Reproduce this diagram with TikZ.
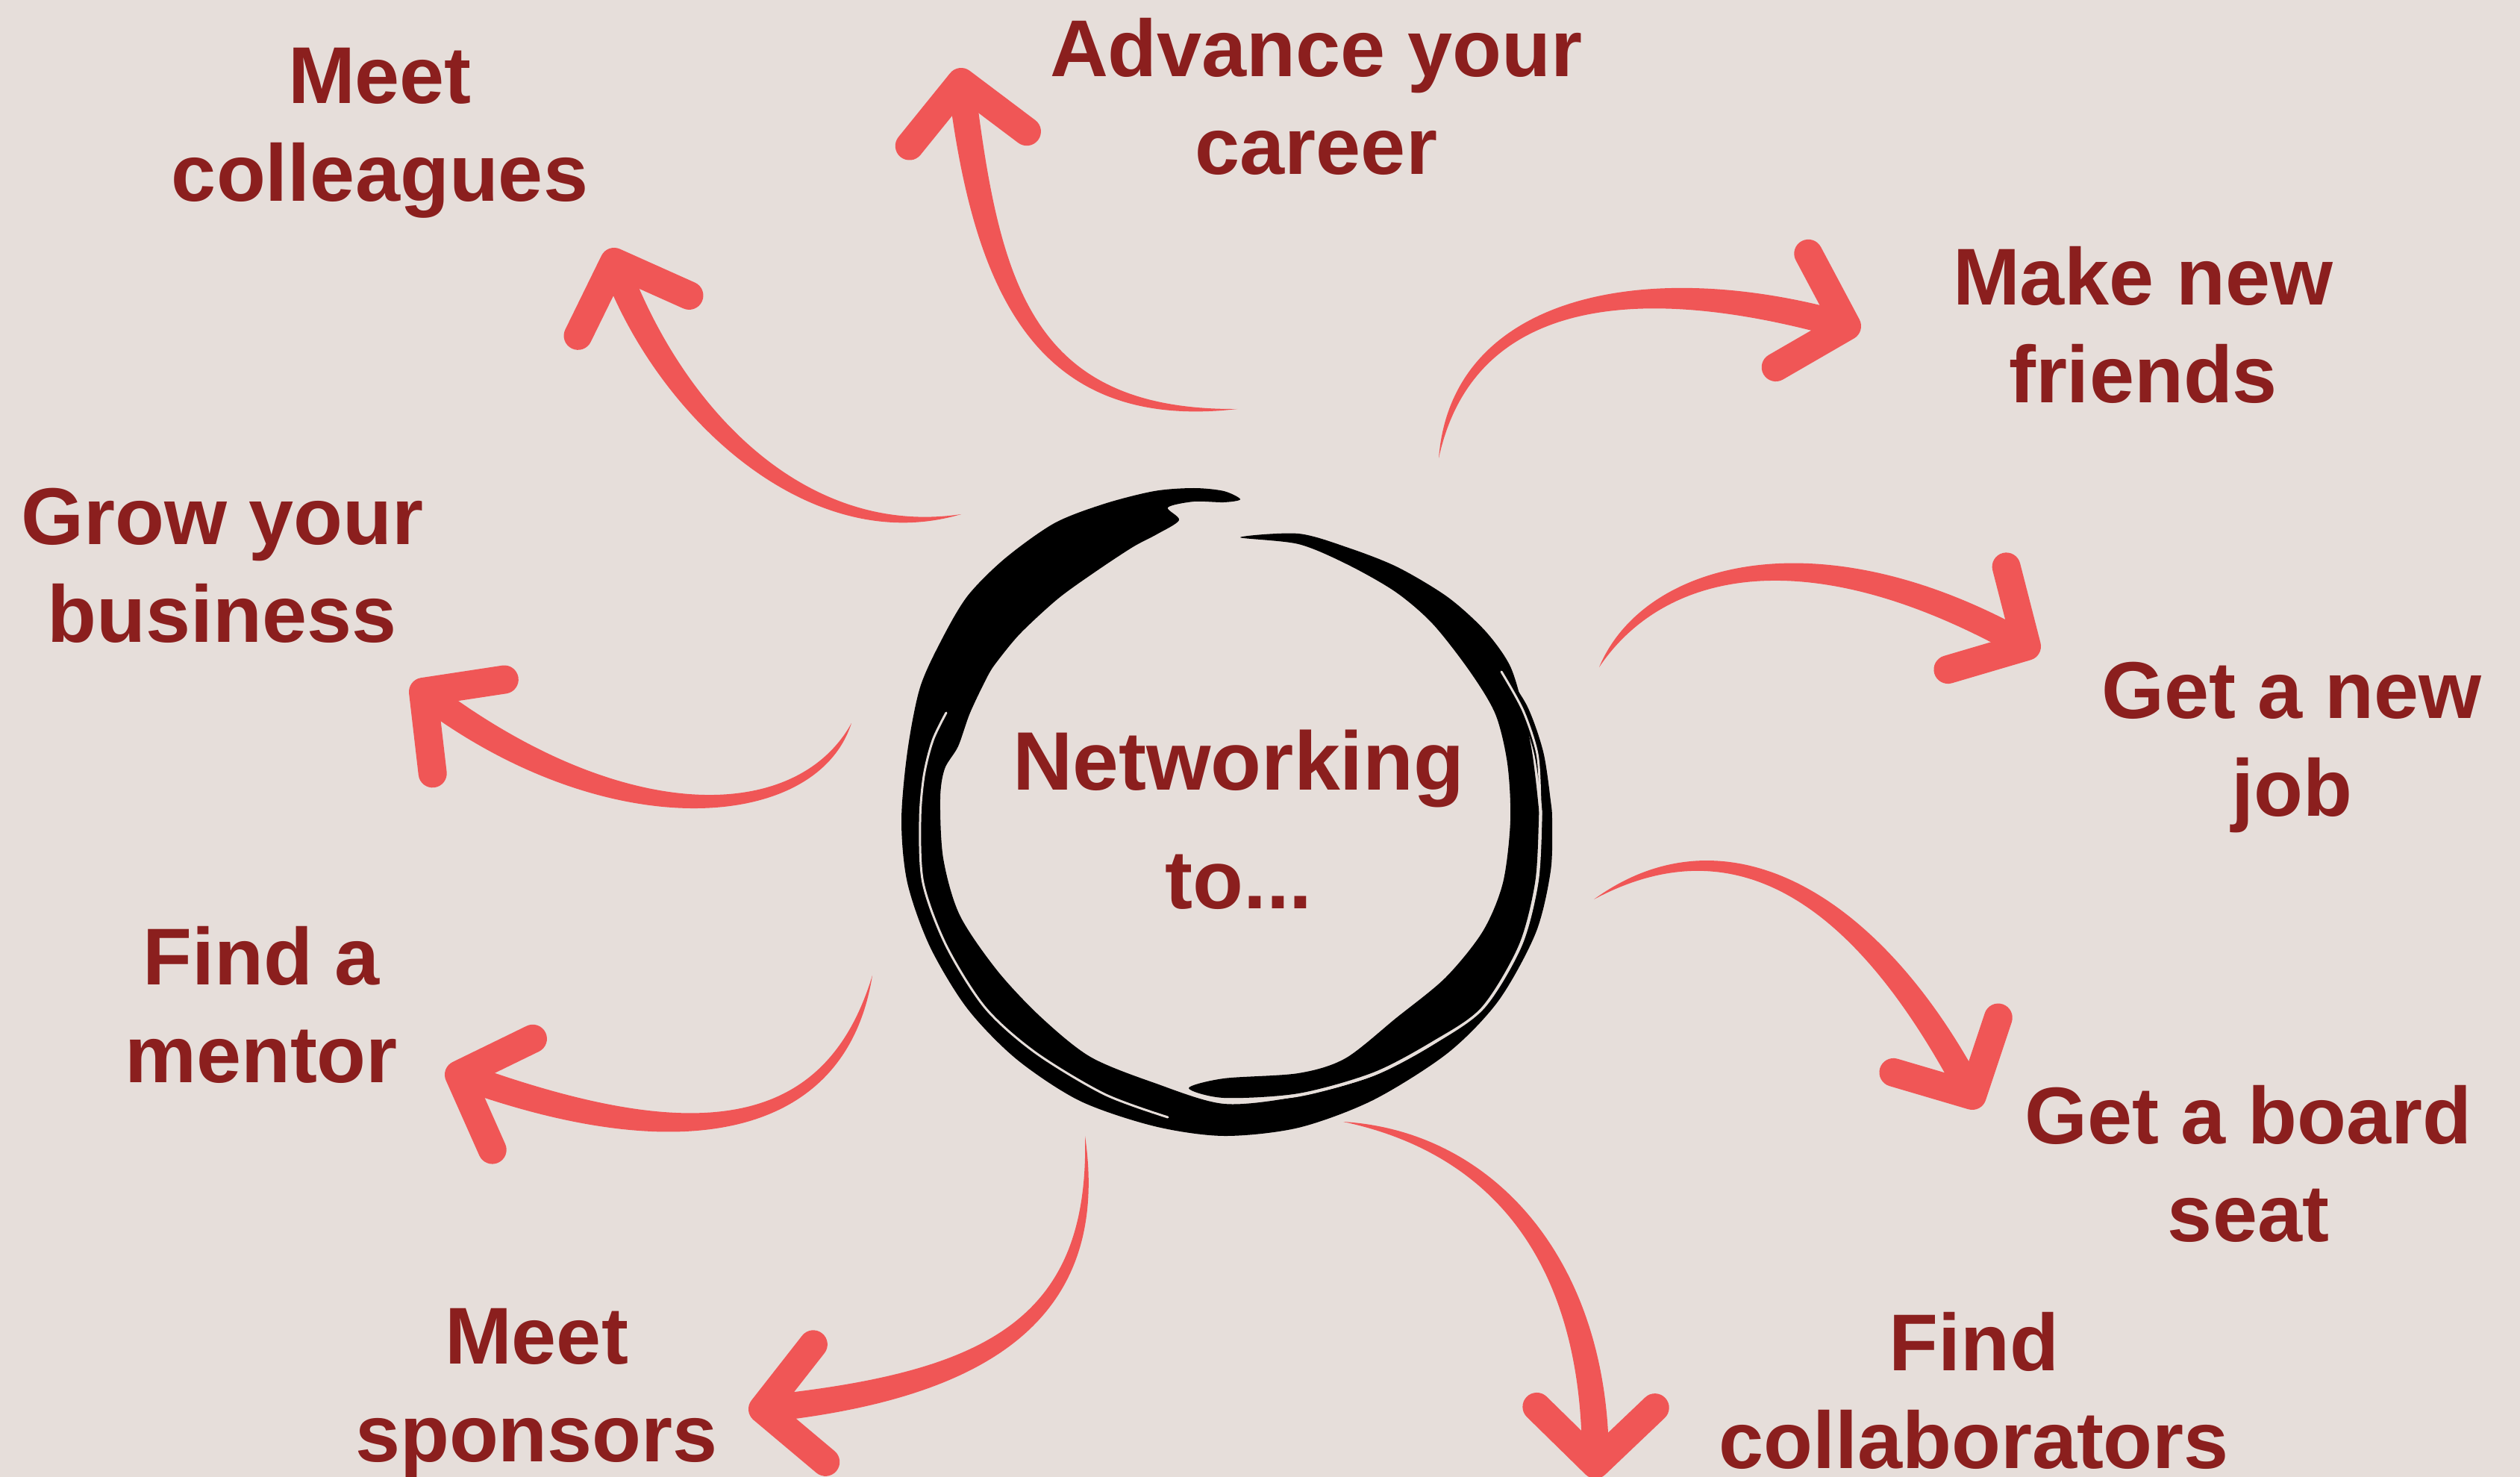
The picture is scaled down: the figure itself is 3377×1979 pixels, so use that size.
\documentclass[tikz,border=0pt]{standalone}
\usepackage{fontspec}
\setmainfont{Liberation Sans}
\usetikzlibrary{calc}
\definecolor{bgsand}{HTML}{E6DEDA}
\definecolor{labelred}{HTML}{8B1F1E}
\definecolor{arrowred}{HTML}{F05656}
\newcommand{\twoline}[2]{\strut#1\\\strut#2}
\newcommand{\shafthw}{0.18cm}
\newcommand{\tailhw}{0.15cm}
\newcommand{\armlen}{1.1cm}
% tapered brush arrow: tail, control, control, head
\newcommand{\brusharrow}[4]{%
  \fill[shaft] (#1) .. controls ($(#2)!\tailhw!90:(#1)$) and ($(#3)!\shafthw!-90:(#4)$) .. ($(#4)!\shafthw!90:(#3)$)
    -- ($(#4)!\shafthw!-90:(#3)$) .. controls ($(#3)!\shafthw!90:(#4)$) and ($(#2)!\tailhw!-90:(#1)$) .. (#1) -- cycle;
  \draw[chevron] ($(#4)!\armlen!46:(#3)$) -- (#4) -- ($(#4)!\armlen!-46:(#3)$);}
\tikzset{
  shaft/.style={fill=arrowred},
  chevron/.style={draw=arrowred, line width=0.38cm, line cap=round, line join=round},
  lbl/.style={text=labelred, font=\fontsize{30.7}{37}\selectfont\bfseries, align=center, inner sep=0pt},
  hub/.style={text=labelred, font=\fontsize{31.6}{45.2}\selectfont\bfseries, align=center, inner sep=0pt},
  ink/.style={fill=black},
  gapline/.style={draw=bgsand, line width=0.03cm, line cap=round}
}

\begin{document}
\begin{tikzpicture}[x=0.01cm, y=-0.01cm]
\fill[bgsand] (0,0) rectangle (3377,1979);
\useasboundingbox (0,0) rectangle (3377,1979);

% brush ring
\fill[ink] plot[smooth cycle, tension=0.5] coordinates {
  (1662,669) (1640,658) (1600,654) (1547,658) (1480,675) (1413,701) (1347,748) (1297,798)
  (1263,855) (1233,921) (1216,1007) (1208,1100) (1216,1183) (1246,1268) (1296,1351) (1362,1419)
  (1447,1475) (1547,1509) (1640,1522) (1740,1511) (1840,1474) (1940,1411) (2008,1341) (2058,1250)
  (2078,1167) (2080,1100) (2078,1073) (2068,1007) (2046,945) (2012,896)
  (2038,955) (2056,1010) (2065,1073) (2066,1100) (2061,1183) (2039,1267) (1989,1349) (1922,1399)
  (1840,1442) (1740,1469) (1640,1479) (1547,1451) (1461,1416) (1394,1362) (1336,1300) (1286,1226)
  (1264,1150) (1260,1070) (1266,1030) (1284,1000) (1300,955) (1324,905) (1338,884) (1368,848)
  (1418,802) (1468,766) (1518,733) (1550,716) (1580,697) (1565,680) (1600,672) (1640,673)};
\fill[ink] plot[smooth cycle, tension=0.5] coordinates {
  (1662,720) (1740,715) (1807,734) (1873,760) (1940,800) (1990,845) (2023,891) (2040,945)
  (2053,1007) (2061,1073) (2062,1100) (2057,1183) (2035,1267) (1985,1350) (1920,1395) (1840,1437)
  (1740,1465) (1640,1471) (1593,1458)
  (1640,1445) (1740,1438) (1803,1418) (1871,1364) (1937,1310) (1987,1248) (2014,1183) (2024,1100)
  (2020,1023) (2004,957) (1970,900) (1920,836) (1870,793) (1805,756) (1740,729)};
\draw[gapline] plot[smooth] coordinates {(1268,955) (1250,992) (1238,1040) (1233,1100) (1237,1183)
  (1268,1267) (1320,1350) (1387,1410) (1480,1466) (1565,1497)};
\draw[gapline] plot[smooth] coordinates {(2012,900) (2041,952) (2060,1010) (2064,1073) (2065,1100)
  (2060,1183) (2038,1267) (1988,1350) (1922,1397) (1840,1440) (1740,1468) (1640,1476)};

\node[hub] (hub) at (1660,1106) {\twoline{Networking}{to...}};

% labels
\node[lbl] (colleagues) at (509,178) {\twoline{Meet}{colleagues}};
\node[lbl] (career) at (1764,142) {\twoline{Advance your}{career}};
\node[lbl] (friends) at (2872,448) {\twoline{Make new}{friends}};
\node[lbl] (job) at (3071,1002) {\twoline{Get a new}{job}};
\node[lbl] (board) at (3013,1572) {\twoline{Get a board}{seat}};
\node[lbl] (collab) at (2645,1876) {\twoline{Find}{collaborators}};
\node[lbl] (sponsors) at (719,1867) {\twoline{Meet}{sponsors}};
\node[lbl] (mentor) at (350,1359) {\twoline{Find a}{mentor}};
\node[lbl] (business) at (298,769) {\twoline{Grow your}{business}};

% arrows
\coordinate (t1) at (1288,689); \coordinate (p1) at (1080,735); \coordinate (q1) at (895,550); \coordinate (h1) at (823,351);
\coordinate (t2) at (1658,548); \coordinate (p2) at (1380,565); \coordinate (q2) at (1321,378); \coordinate (h2) at (1288,110);
\coordinate (t3) at (1928,614); \coordinate (p3) at (1960,395); \coordinate (q3) at (2206,360); \coordinate (h3) at (2475,437);
\coordinate (t4) at (2143,894); \coordinate (p4) at (2215,760); \coordinate (q4) at (2429,703); \coordinate (h4) at (2716,866);
\coordinate (t5) at (2136,1205); \coordinate (p5) at (2320,1090); \coordinate (q5) at (2504,1202); \coordinate (h5) at (2643,1468);
\coordinate (t6) at (1800,1503); \coordinate (p6) at (2000,1530); \coordinate (q6) at (2140,1690); \coordinate (h6) at (2138,1962);
\coordinate (t7) at (1454,1522); \coordinate (p7) at (1475,1770); \coordinate (q7) at (1320,1857); \coordinate (h7) at (1022,1888);
\coordinate (t8) at (1169,1307); \coordinate (p8) at (1120,1520); \coordinate (q8) at (925,1553); \coordinate (h8) at (615,1440);
\coordinate (t9) at (1141,969); \coordinate (p9) at (1080,1110); \coordinate (q9) at (821,1121); \coordinate (h9) at (567,927);
\brusharrow{t1}{p1}{q1}{h1}
\brusharrow{t2}{p2}{q2}{h2}
\brusharrow{t3}{p3}{q3}{h3}
\brusharrow{t4}{p4}{q4}{h4}
\brusharrow{t5}{p5}{q5}{h5}
\brusharrow{t6}{p6}{q6}{h6}
\brusharrow{t7}{p7}{q7}{h7}
\brusharrow{t8}{p8}{q8}{h8}
\brusharrow{t9}{p9}{q9}{h9}
\end{tikzpicture}
\end{document}
